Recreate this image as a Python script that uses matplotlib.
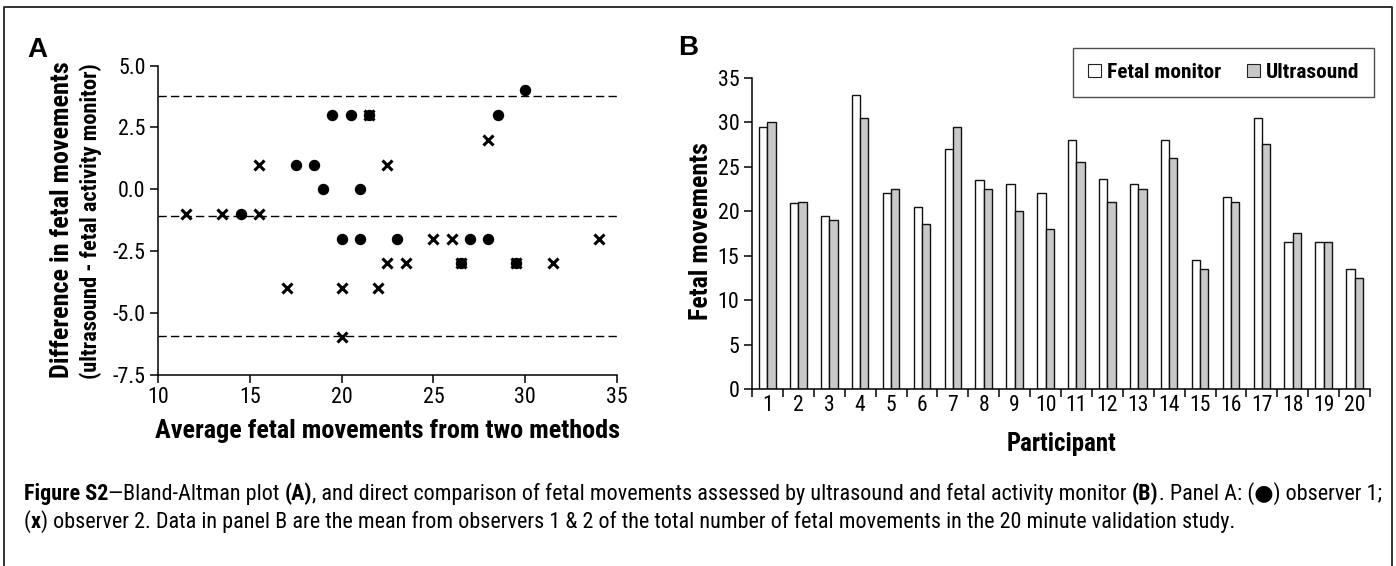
import matplotlib
matplotlib.use("Agg")
import matplotlib.pyplot as plt
from matplotlib import font_manager
from matplotlib.font_manager import FontProperties
from matplotlib.patches import Patch
import numpy as np

# ---------------- data ----------------
obs1_avg = [14.5, 17.5, 18.5, 19, 19.5, 20.5, 21.5, 21, 20, 21, 23, 27, 28, 26.5, 29.5, 28.5, 30]
obs1_diff = [-1, 1, 1, 0, 3, 3, 3, 0, -2, -2, -2, -2, -2, -3, -3, 3, 4]
obs2_avg = [11.5, 13.5, 15.5, 15.5, 17, 20, 22, 20, 21.5, 22.5, 28, 25, 26, 34, 22.5, 23.5, 26.5, 29.5, 31.5]
obs2_diff = [-1, -1, -1, 1, -4, -4, -4, -6, 3, 1, 2, -2, -2, -2, -3, -3, -3, -3, -3]
loa_upper = 3.78
bias = -1.08
loa_lower = -5.94
a_xticks = [10, 15, 20, 25, 30, 35]
a_yticks = [5.0, 2.5, 0.0, -2.5, -5.0, -7.5]

participants = [str(i) for i in range(1, 21)]
fetal_monitor = [29.5, 20.9, 19.5, 33.1, 22.0, 20.5, 27.0, 23.5, 23.0, 22.0,
                 28.0, 23.6, 23.0, 28.0, 14.5, 21.6, 30.5, 16.5, 16.5, 13.5]
ultrasound = [30.0, 21.0, 19.0, 30.5, 22.5, 18.5, 29.5, 22.5, 20.0, 18.0,
              25.5, 21.0, 22.5, 26.0, 13.5, 21.0, 27.5, 17.5, 16.5, 12.5]
b_yticks = [0, 5, 10, 15, 20, 25, 30, 35]

# ---------------- font selection (prefer a narrow sans) ----------------
entries = font_manager.fontManager.ttflist
names = {f.name for f in entries}
BASE = 'Liberation Sans'
STRETCH = 'normal'
for cand in ['Liberation Sans Narrow', 'Arial Narrow', 'Roboto Condensed',
             'Open Sans Condensed', 'Noto Sans Condensed', 'DejaVu Sans Condensed']:
    if cand in names:
        BASE = cand
        break
else:
    for fam in ['Noto Sans', 'Open Sans', 'Roboto', 'DejaVu Sans', 'Liberation Sans']:
        cond = [f for f in entries if f.name == fam and
                str(f.stretch) in ('condensed', 'semi-condensed', 'extra-condensed')]
        if cond:
            BASE = fam
            STRETCH = str(cond[0].stretch)
            break
FAM = [BASE, 'DejaVu Sans']
plt.rcParams['font.family'] = FAM
plt.rcParams['font.stretch'] = STRETCH

W, H = 1396, 566
fig = plt.figure(figsize=(W / 100, H / 100), dpi=100)
renderer = fig.canvas.get_renderer()


def fx(px):
    return px / W


def fy(py):
    return 1 - py / H


def text_w(s, weight='normal', size=10):
    prop = FontProperties(family=FAM, weight=weight, size=size, stretch=STRETCH)
    w, h, d = renderer.get_text_width_height_descent(s, prop, ismath=False)
    return w


def fit(s, target_px, weight='normal'):
    return 10.0 * target_px / text_w(s, weight)


# sizes fitted to the widths measured on the reference
XLAB_A = fit('Average fetal movements from two methods', 465, 'bold')
YLAB_A1 = fit('Difference in fetal movements', 315, 'bold')
YLAB_A2 = fit('(ultrasound - fetal activity monitor)', 317, 'bold')
YLAB_B = fit('Fetal movements', 177, 'bold')
XLAB_B = min(fit('Participant', 110, 'bold'), XLAB_A)
LEG = fit('Fetal monitor', 114, 'bold')
TICK = max(fit('5.0', 25), 0.84 * XLAB_A)
TICK_B_X = min(TICK, fit('20', 21))

# outer frame (open at bottom)
fig.add_artist(plt.Line2D([fx(3.5), fx(3.5), fx(1392), fx(1392)],
                          [fy(600), fy(7), fy(7), fy(600)],
                          transform=fig.transFigure, color='#222222', lw=1.3))

# ---------------- Panel A ----------------
axA = fig.add_axes([fx(158), fy(374.5), fx(617) - fx(158), fy(65.7) - fy(374.5)])
axA.set_xlim(10, 35)
axA.set_ylim(-7.5, 5)
for y in (loa_upper, bias, loa_lower):
    axA.axhline(y, color='black', lw=1.0, dashes=(6, 3))
axA.plot(obs1_avg, obs1_diff, 'o', color='black', ms=7.2, zorder=3)
axA.plot(obs2_avg, obs2_diff, 'x', color='black', ms=7.5, mew=2.2, zorder=3)
axA.set_xticks(a_xticks)
axA.set_yticks(a_yticks)
axA.set_yticklabels(['%.1f' % v for v in a_yticks])
for s in ('top', 'right'):
    axA.spines[s].set_visible(False)
for s in ('left', 'bottom'):
    axA.spines[s].set_linewidth(1.1)
axA.tick_params(direction='out', length=6, width=1.1, labelsize=TICK, pad=3)
axA.set_xlabel('Average fetal movements from two methods', fontsize=XLAB_A,
               fontweight='bold', labelpad=8)
fig.text(fx(62), fy(220), 'Difference in fetal movements', rotation=90,
         ha='center', va='center', fontsize=YLAB_A1, fontweight='bold')
fig.text(fx(91), fy(221), '(ultrasound - fetal activity monitor)', rotation=90,
         ha='center', va='center', fontsize=YLAB_A2, fontweight='bold')
fig.text(fx(27), fy(57), 'A', fontsize=20, fontweight='bold',
         family=['Liberation Sans', 'DejaVu Sans'], stretch='normal',
         ha='left', va='baseline')

# ---------------- Panel B ----------------
axB = fig.add_axes([fx(752), fy(389), fx(1370) - fx(752), fy(77.7) - fy(389)])
x = np.arange(len(participants))
bw = 0.27
axB.bar(x - bw / 2, fetal_monitor, bw, color='white', edgecolor='#111111', lw=1.0)
axB.bar(x + bw / 2, ultrasound, bw, color='#c8c8c8', edgecolor='#111111', lw=1.0)
axB.set_xlim(-0.5, len(participants) - 0.5)
axB.set_ylim(0, 35)
axB.set_yticks(b_yticks)
axB.set_xticks(np.arange(-0.5, len(participants), 1.0))
axB.set_xticklabels([])
axB.set_xticks(x, minor=True)
axB.set_xticklabels(participants, minor=True)
axB.tick_params(axis='x', which='minor', length=0, labelsize=TICK_B_X, pad=4)
axB.tick_params(axis='x', which='major', direction='out', length=6, width=1.1)
axB.tick_params(axis='y', direction='out', length=6, width=1.1, labelsize=TICK, pad=3)
for s in ('top', 'right'):
    axB.spines[s].set_visible(False)
for s in ('left', 'bottom'):
    axB.spines[s].set_linewidth(1.1)
axB.set_xlabel('Participant', fontsize=XLAB_B, fontweight='bold', labelpad=12)
fig.text(fx(701), fy(231), 'Fetal movements', rotation=90, ha='center', va='center',
         fontsize=YLAB_B, fontweight='bold')
fig.text(fx(678), fy(55), 'B', fontsize=20, fontweight='bold',
         family=['Liberation Sans', 'DejaVu Sans'], stretch='normal',
         ha='left', va='baseline')

LEG_PX = LEG * 100 / 72
handles = [Patch(facecolor='white', edgecolor='#222222', lw=0.8, label='Fetal monitor'),
           Patch(facecolor='#c8c8c8', edgecolor='#222222', lw=0.8, label='Ultrasound')]
leg = fig.legend(handles=handles, loc='upper right', ncol=2,
                 bbox_to_anchor=(fx(1374), fy(48)), bbox_transform=fig.transFigure,
                 frameon=True, fancybox=False, borderaxespad=0,
                 handlelength=13 / LEG_PX, handleheight=13 / LEG_PX,
                 handletextpad=6 / LEG_PX, columnspacing=25 / LEG_PX,
                 borderpad=15 / LEG_PX,
                 prop=FontProperties(family=FAM, size=LEG, weight='bold', stretch=STRETCH))
leg.get_frame().set_edgecolor('#222222')
leg.get_frame().set_linewidth(1.0)

# ---------------- caption ----------------
line1 = [('Figure S2', True), ('\u2014Bland-Altman plot ', False), ('(A)', True),
         (', and direct comparison of fetal movements assessed by ultrasound and fetal activity monitor ', False),
         ('(B)', True), ('. Panel A: (\u25cf) observer 1;', False)]
line2 = [('(', False), ('x', True),
         (') observer 2. Data in panel B are the mean from observers 1 & 2 of the total number of fetal movements in the 20 minute validation study.', False)]
w1 = sum(text_w(t, 'bold' if b else 'normal') for t, b in line1)
CAP = 10.0 * (1375 - 24) / w1


def chain(pieces, x0, y0):
    prev = None
    for txt, bold in pieces:
        kw = dict(fontsize=CAP, fontweight='bold' if bold else 'normal',
                  ha='left', va='bottom')
        if prev is None:
            prev = fig.text(x0, y0, txt, **kw)
        else:
            prev = fig.add_artist(matplotlib.text.Annotation(
                txt, xy=(1, 0), xycoords=prev, annotation_clip=False, **kw))


chain(line1, fx(24), fy(505))
chain(line2, fx(24), fy(533))

fig.savefig('out.png', dpi=100)
